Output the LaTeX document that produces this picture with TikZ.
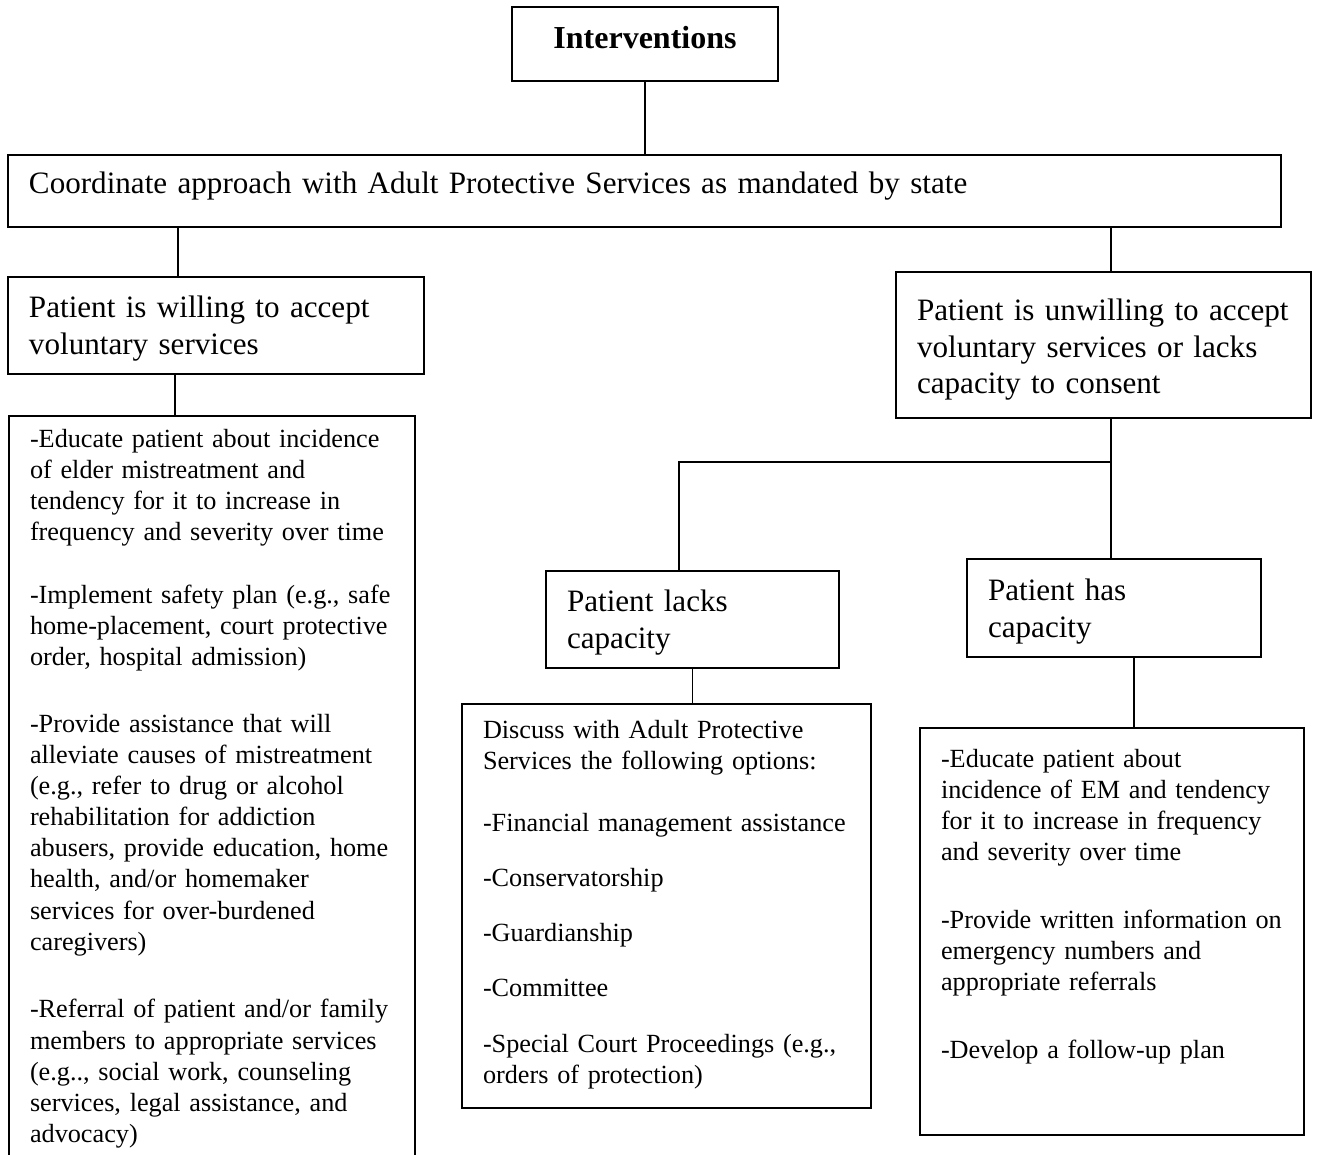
\documentclass[tikz,border=0pt]{standalone}
\usepackage{fontspec}
\setmainfont{Liberation Serif}
\usetikzlibrary{positioning}

% one pixel of the layout
\newdimen\px \px=0.45pt
% lines of a box, no wrapping
\newcommand{\boxlines}[1]{\begin{tabular}[t]{@{}l@{}}#1\end{tabular}}

\tikzset{
  box/.style={draw, line width=0.9pt, anchor=north west, inner xsep=21\px, inner ysep=0pt, align=left},
  big/.style={font=\fontsize{14}{16.4}\selectfont},
  small/.style={font=\fontsize{11.8}{13.95}\selectfont},
  link/.style={line width=0.7pt},
}

\begin{document}
\begin{tikzpicture}[x=0.45pt,y=-0.45pt]
\useasboundingbox (0,0) rectangle (1317,1155);
\clip (0,0) rectangle (1317,1155);

% top boxes
\node[box, font=\fontsize{14.4}{16.4}\selectfont, align=center, text width=224\px, text height=42\px, text depth=32\px] (inter) at (511,6) {\textbf{Interventions}};
\node[box, big, text width=1231\px, text height=39\px, text depth=33\px] (coord) at (7,154)
  {Coordinate approach with Adult Protective Services as mandated by state};

% left branch
\node[box, big, text width=374\px, text height=41\px, text depth=56\px] (willing) at (7,276)
  {\boxlines{Patient is willing to accept\\ voluntary services}};
\node[box, small, text width=364\px, text height=32\px, text depth=728\px] (willlist) at (8,415)
  {\boxlines{-Educate patient about incidence\\
   of elder mistreatment and\\
   tendency for it to increase in\\
   frequency and severity over time\\[32\px]
   -Implement safety plan (e.g., safe\\
   home-placement, court protective\\
   order, hospital admission)\\[36\px]
   -Provide assistance that will\\
   alleviate causes of mistreatment\\
   (e.g., refer to drug or alcohol\\
   rehabilitation for addiction\\
   abusers, provide education, home\\
   health, and/or homemaker\\
   services for over-burdened\\
   caregivers)\\[37\px]
   -Referral of patient and/or family\\
   members to appropriate services\\
   (e.g.., social work, counseling\\
   services, legal assistance, and\\
   advocacy)}};

% right branch
\node[box, big, text width=373\px, text height=49\px, text depth=97\px] (unwilling) at (895,271)
  {\boxlines{Patient is unwilling to accept\\ voluntary services or lacks\\ capacity to consent}};
\node[box, big, text width=251\px, text height=41\px, text depth=56\px] (lacks) at (545,570)
  {\boxlines{Patient lacks\\ capacity}};
\node[box, big, text width=252\px, text height=42\px, text depth=56\px] (has) at (966,558)
  {\boxlines{Patient has\\ capacity}};
\node[box, small, text width=367\px, text height=34\px, text depth=370\px] (lacklist) at (461,703)
  {\boxlines{Discuss with Adult Protective\\
   Services the following options:\\[31\px]
   -Financial management assistance\\[24\px]
   -Conservatorship\\[24\px]
   -Guardianship\\[24\px]
   -Committee\\[25\px]
   -Special Court Proceedings (e.g.,\\
   orders of protection)}};
\node[box, small, text width=342\px, text height=39\px, text depth=368\px] (haslist) at (919,727)
  {\boxlines{-Educate patient about\\
   incidence of EM and tendency\\
   for it to increase in frequency\\
   and severity over time\\[37\px]
   -Provide written information on\\
   emergency numbers and\\
   appropriate referrals\\[37\px]
   -Develop a follow-up plan}};

% connectors
\coordinate (wtop) at ([xshift=171\px]willing.north west);
\coordinate (ltop) at ([xshift=167\px]willlist.north west);
\coordinate (utop) at ([xshift=216\px]unwilling.north west);
\coordinate (split) at (1111,462);
\coordinate (ktop) at ([xshift=134\px]lacks.north west);
\coordinate (hbot) at ([xshift=168\px]has.south west);

\draw[link] (inter.south) -- (inter.south |- coord.north);
\draw[link] (wtop |- coord.south) -- (wtop);
\draw[link] (utop |- coord.south) -- (utop);
\draw[link] (ltop |- willing.south) -- (ltop);
\draw[link] (split |- unwilling.south) -- (split) -- (split |- has.north);
\draw[link] (split) -| (ktop);
\draw[link] (lacks.south) -- (lacks.south |- lacklist.north);
\draw[link] (hbot) -- (hbot |- haslist.north);

\end{tikzpicture}
\end{document}
